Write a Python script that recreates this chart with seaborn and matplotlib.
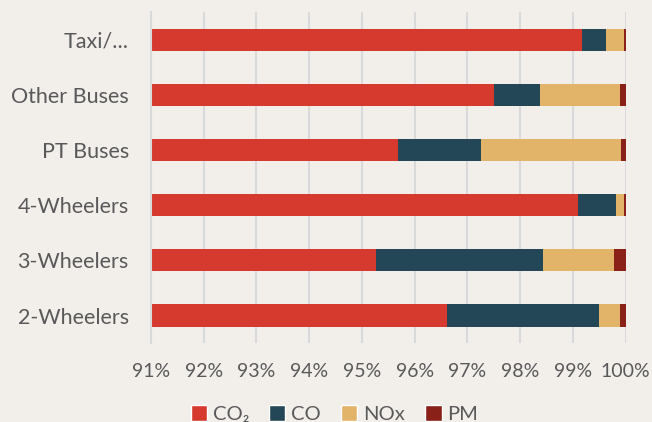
import pandas as pd
import matplotlib.pyplot as plt
import seaborn as sns
from matplotlib.patches import Patch

categorias = ["Taxi/...", "Other Buses", "PT Buses", "4-Wheelers", "3-Wheelers", "2-Wheelers"]
co2 = [99.18, 97.50, 95.69, 99.10, 95.26, 96.61]
co = [0.44, 0.88, 1.56, 0.72, 3.18, 2.89]
nox = [0.34, 1.52, 2.67, 0.15, 1.33, 0.40]
pm = [0.04, 0.10, 0.08, 0.03, 0.23, 0.10]

series = ["CO₂", "CO", "NOx", "PM"]
colores = ["#d63a2f", "#234757", "#e2b46a", "#8a2119"]
FONDO = "#f2efeb"
GRIS = "#595959"

df = pd.DataFrame({"cat": categorias, "CO₂": co2, "CO": co, "NOx": nox, "PM": pm})
# acumulados para apilar
acum = df[series].cumsum(axis=1)
acum["cat"] = df["cat"]

sns.set_style("white")
plt.rcParams["font.family"] = ["Lato", "DejaVu Sans"]

fig = plt.figure(figsize=(6.52, 4.22), dpi=100, facecolor=FONDO)
ax = fig.add_axes([0.2316, 0.187, 0.728, 0.784])
ax.set_facecolor(FONDO)

# dibujar del total hacia atras para que cada capa quede encima
for s, c in reversed(list(zip(series, colores))):
    sns.barplot(data=acum, x=s, y="cat", order=categorias, color=c,
                orient="h", width=0.4, ax=ax, saturation=1, linewidth=0)

ax.set_xlim(91, 100)
ax.set_xticks(range(91, 101))
ax.set_xticklabels([f"{t}%" for t in range(91, 101)])
ax.set_xlabel("")
ax.set_ylabel("")
ax.grid(axis="x", color="#d9d9d9", linewidth=1.5)
ax.set_axisbelow(True)
for sp in ["top", "right", "bottom"]:
    ax.spines[sp].set_visible(False)
ax.spines["left"].set_color("#d9d9d9")
ax.spines["left"].set_linewidth(1.5)
ax.tick_params(axis="both", length=0, labelcolor=GRIS)
ax.tick_params(axis="x", pad=14, labelsize=14)
ax.tick_params(axis="y", pad=16, labelsize=15.5)

handles = [Patch(facecolor=c, label=s) for s, c in zip(series, colores)]
fig.legend(handles=handles, loc="lower center", bbox_to_anchor=(0.513, -0.045), ncol=4,
           frameon=False, fontsize=14.5, labelcolor=GRIS, handlelength=0.8,
           handleheight=0.8, handletextpad=0.3, columnspacing=1.0)

fig.savefig("out.png", dpi=100, facecolor=FONDO)
